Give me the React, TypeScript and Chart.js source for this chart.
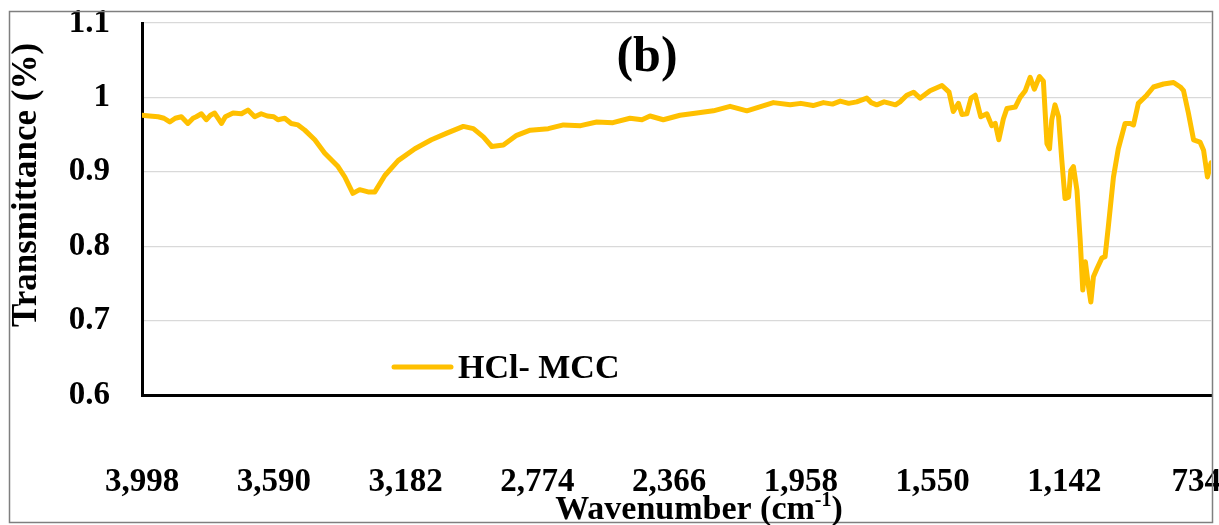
import React, { useEffect, useRef } from "react";
import { Chart, registerables } from "chart.js";

Chart.register(...registerables);

// Wavenumber (cm-1)
const WAVENUMBERS = [
  3998, 3975, 3948, 3930, 3912, 3895, 3876, 3856, 3840, 3830,
  3814, 3799, 3786, 3773, 3752, 3740, 3716, 3690, 3670, 3649,
  3629, 3610, 3590, 3577, 3556, 3536, 3515, 3494, 3463, 3432,
  3391, 3370, 3345, 3324, 3298, 3277, 3246, 3205, 3153, 3102,
  3054, 3003, 2972, 2941, 2915, 2879, 2838, 2796, 2740, 2693,
  2640, 2590, 2540, 2487, 2450, 2425, 2384, 2332, 2280, 2229,
  2177, 2125, 2043, 1991, 1958, 1920, 1888, 1860, 1836, 1810,
  1785, 1754, 1740, 1723, 1700, 1682, 1665, 1651, 1630, 1609,
  1589, 1558, 1521, 1499, 1486, 1470, 1459, 1444, 1431, 1418,
  1401, 1382, 1367, 1356, 1345, 1331, 1320, 1294, 1279, 1263,
  1248, 1235, 1219, 1207, 1196, 1188, 1181, 1171, 1160, 1150,
  1140, 1129, 1122, 1114, 1103, 1093, 1085, 1077, 1067, 1060,
  1052, 1041, 1026, 1016, 1006, 990, 975, 954, 938, 928,
  913, 887, 866, 835, 804, 783, 773, 758, 742, 722,
  711, 699, 688,
];

// Transmittance values for HCl- MCC
const TRANSMITTANCE = [
  0.976, 0.975, 0.974, 0.972, 0.967, 0.972, 0.974, 0.965, 0.972, 0.974,
  0.978, 0.970, 0.976, 0.979, 0.965, 0.974, 0.979, 0.978, 0.983, 0.974,
  0.978, 0.975, 0.974, 0.970, 0.972, 0.965, 0.963, 0.956, 0.943, 0.925,
  0.907, 0.893, 0.871, 0.876, 0.873, 0.873, 0.895, 0.915, 0.931, 0.943,
  0.952, 0.961, 0.958, 0.947, 0.934, 0.936, 0.949, 0.956, 0.958, 0.963,
  0.962, 0.967, 0.966, 0.972, 0.970, 0.975, 0.970, 0.976, 0.979, 0.982,
  0.988, 0.982, 0.993, 0.990, 0.992, 0.989, 0.993, 0.991, 0.995, 0.992,
  0.994, 0.999, 0.993, 0.990, 0.994, 0.992, 0.990, 0.994, 1.003, 1.007,
  0.999, 1.009, 1.016, 1.007, 0.981, 0.992, 0.977, 0.978, 0.999, 1.003,
  0.974, 0.978, 0.962, 0.965, 0.943, 0.971, 0.985, 0.987, 1.000, 1.009,
  1.027, 1.011, 1.028, 1.022, 0.938, 0.931, 0.970, 0.990, 0.974, 0.916,
  0.864, 0.866, 0.902, 0.907, 0.875, 0.808, 0.741, 0.779, 0.745, 0.725,
  0.759, 0.770, 0.784, 0.786, 0.826, 0.893, 0.931, 0.965, 0.965, 0.963,
  0.992, 1.003, 1.014, 1.018, 1.020, 1.014, 1.009, 0.979, 0.943, 0.940,
  0.929, 0.893, 0.912,
];

const X_TICKS = [3998, 3590, 3182, 2774, 2366, 1958, 1550, 1142, 734];
const Y_TICKS = [0.6, 0.7, 0.8, 0.9, 1.0, 1.1];
const X_MIN = 688;
const X_MAX = 3998;

const SERIES_LABEL = "HCl- MCC";
const PANEL_LABEL = "(b)";
const Y_TITLE = "Transmittance (%)";
const X_TITLE_MAIN = "Wavenumber (cm";
const X_TITLE_SUP = "-1";
const X_TITLE_END = ")";

const LINE_COLOR = "#FFC000";
const FONT_FAMILY = '"Liberation Serif", "Times New Roman", serif';

function withCommas(v: number): string {
  const s = String(Math.round(v));
  return s.replace(/\B(?=(\d{3})+(?!\d))/g, ",");
}

const decorPlugin = {
  id: "decor",
  afterDraw(chart: any) {
    const ctx = chart.ctx as CanvasRenderingContext2D;
    ctx.save();
    // outer frame
    ctx.strokeStyle = "#7f7f7f";
    ctx.lineWidth = 1.5;
    ctx.strokeRect(9.5, 11.5, 1203, 511);

    ctx.fillStyle = "#000";
    // panel label
    ctx.font = `bold 50px ${FONT_FAMILY}`;
    ctx.textAlign = "center";
    ctx.textBaseline = "alphabetic";
    ctx.fillText(PANEL_LABEL, 647, 71);

    // legend
    ctx.strokeStyle = LINE_COLOR;
    ctx.lineWidth = 5;
    ctx.lineCap = "round";
    ctx.beginPath();
    ctx.moveTo(394, 367);
    ctx.lineTo(451, 367);
    ctx.stroke();
    ctx.font = `bold 34px ${FONT_FAMILY}`;
    ctx.textAlign = "left";
    ctx.fillText(SERIES_LABEL, 458, 378);

    // y title
    ctx.save();
    ctx.translate(36, 185);
    ctx.rotate(-Math.PI / 2);
    ctx.font = `bold 35px ${FONT_FAMILY}`;
    ctx.textAlign = "center";
    ctx.textBaseline = "alphabetic";
    ctx.fillText(Y_TITLE, 0, 0);
    ctx.restore();

    // x title with superscript
    const mainFont = `bold 34px ${FONT_FAMILY}`;
    const supFont = `bold 20px ${FONT_FAMILY}`;
    ctx.font = mainFont;
    const w1 = ctx.measureText(X_TITLE_MAIN).width;
    const w3 = ctx.measureText(X_TITLE_END).width;
    ctx.font = supFont;
    const w2 = ctx.measureText(X_TITLE_SUP).width;
    const total = w1 + w2 + w3;
    let x = 699 - total / 2;
    const base = 519;
    ctx.textAlign = "left";
    ctx.font = mainFont;
    ctx.fillText(X_TITLE_MAIN, x, base);
    x += w1;
    ctx.font = supFont;
    ctx.fillText(X_TITLE_SUP, x, base - 13);
    x += w2;
    ctx.font = mainFont;
    ctx.fillText(X_TITLE_END, x, base);
    ctx.restore();
  },
};

export default function App() {
  const canvasRef = useRef<HTMLCanvasElement | null>(null);

  useEffect(() => {
    if (!canvasRef.current) return;
    const tickFont = { family: FONT_FAMILY, size: 33, weight: "bold" as const };
    const chart = new Chart(canvasRef.current, {
      type: "line",
      data: {
        datasets: [
          {
            label: SERIES_LABEL,
            data: WAVENUMBERS.map((w, i) => ({ x: w, y: TRANSMITTANCE[i] })),
            borderColor: LINE_COLOR,
            backgroundColor: LINE_COLOR,
            borderWidth: 5,
            pointRadius: 0,
            tension: 0,
            fill: false,
            borderJoinStyle: "round",
            borderCapStyle: "round",
          },
        ],
      },
      options: {
        responsive: false,
        maintainAspectRatio: false,
        animation: false,
        layout: { padding: { top: 23, right: 8, left: 0, bottom: 0 } },
        plugins: {
          legend: { display: false },
          tooltip: { enabled: false },
        },
        scales: {
          x: {
            type: "linear",
            reverse: true,
            min: X_MIN,
            max: X_MAX,
            afterBuildTicks: (s: any) => {
              s.ticks = X_TICKS.map((v) => ({ value: v }));
            },
            afterFit: (s: any) => {
              s.height = 130;
              s.paddingLeft = 0;
              s.paddingRight = 0;
            },
            grid: { display: false },
            border: { display: true, color: "#000", width: 3 },
            ticks: {
              autoSkip: false,
              maxRotation: 0,
              minRotation: 0,
              padding: 60,
              color: "#000",
              font: tickFont,
              callback: (v: any) => withCommas(Number(v)),
            },
          },
          y: {
            type: "linear",
            min: 0.6,
            max: 1.1,
            afterBuildTicks: (s: any) => {
              s.ticks = Y_TICKS.map((v) => ({ value: v }));
            },
            afterFit: (s: any) => {
              s.width = 142;
              s.paddingTop = 0;
              s.paddingBottom = 0;
            },
            grid: { color: "#d9d9d9", lineWidth: 1.2, drawTicks: false },
            border: { display: true, color: "#000", width: 3 },
            ticks: {
              padding: 32,
              color: "#000",
              font: tickFont,
              callback: (v: any) => String(Number(Number(v).toFixed(1))),
            },
          },
        },
      },
      plugins: [decorPlugin],
    } as any);
    return () => chart.destroy();
  }, []);

  return (
    <div style={{ position: "fixed", left: 0, top: 0, width: 1219, height: 525, background: "#fff" }}>
      <canvas ref={canvasRef} width={1219} height={525} style={{ width: 1219, height: 525, display: "block" }} />
    </div>
  );
}
